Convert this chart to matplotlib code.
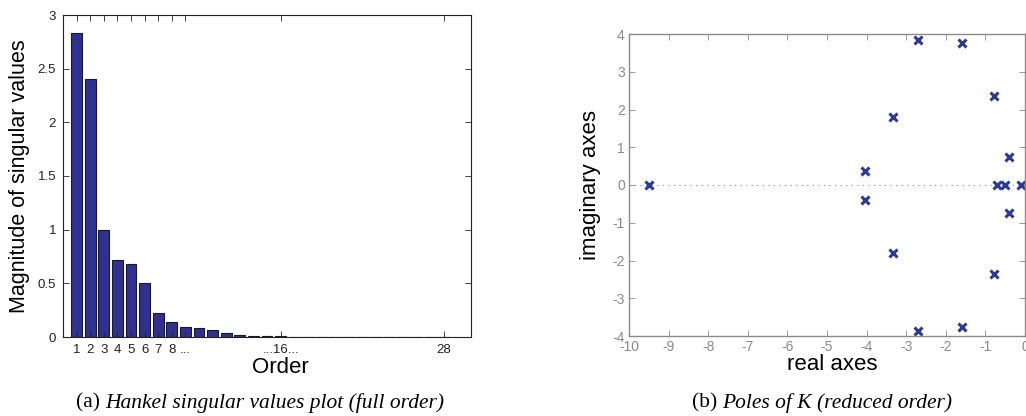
import numpy as np
from matplotlib import pyplot as plt

# Hankel singular values (full order, 28 states)
order = np.arange(1, 29)
hsv = [2.83, 2.40, 1.00, 0.72, 0.68, 0.50, 0.22, 0.14, 0.09, 0.085,
       0.065, 0.035, 0.015, 0.012, 0.008, 0.006, 0.004, 0.003, 0.003, 0.002,
       0.002, 0.002, 0.001, 0.001, 0.001, 0.001, 0.001, 0.001]
xtick_pos = [1, 2, 3, 4, 5, 6, 7, 8, 9, 16, 28]
xtick_lab = ['1', '2', '3', '4', '5', '6', '7', '8', '...', '...16...', '28']

# poles of reduced order controller K
pole_re = [-9.5, -4.05, -4.05, -3.33, -3.33, -2.69, -2.69, -1.58, -1.58,
           -0.78, -0.78, -0.40, -0.40, -0.70, -0.50, -0.09]
pole_im = [0.0, 0.38, -0.39, 1.80, -1.81, 3.85, -3.86, 3.76, -3.77,
           2.35, -2.37, 0.74, -0.75, 0.0, 0.0, 0.0]

plt.rcParams['font.family'] = ['Liberation Sans', 'DejaVu Sans']
plt.rcParams['axes.unicode_minus'] = False

def main():
    fig = plt.figure(figsize=(10.26, 4.16), dpi=100)

    # (a) bar plot
    ax1 = fig.add_axes([63/1026, 1-337/416, 408/1026, 322/416])
    ax1.bar(order, hsv, width=0.8, color='#2E3192', edgecolor='#1a1a1a', linewidth=0.8)
    ax1.set_xlim(0, 30)
    ax1.set_ylim(0, 3)
    ax1.set_yticks(np.arange(0, 3.01, 0.5))
    ax1.set_yticklabels(['0', '0.5', '1', '1.5', '2', '2.5', '3'])
    ax1.set_xticks(xtick_pos)
    ax1.set_xticklabels(xtick_lab)
    ax1.tick_params(direction='in', top=True, right=True, labelsize=9.5,
                    length=4, width=0.6, colors='#222222', pad=5)
    for s in ax1.spines.values():
        s.set_linewidth(0.8)
        s.set_color('#222222')
    ax1.set_ylabel('Magnitude of singular values', fontsize=15.5)
    ax1.yaxis.set_label_coords(-0.08, 0.5)
    ax1.set_xlabel('Order', fontsize=16)
    ax1.xaxis.set_label_coords((280-63)/408, -0.062)

    # (b) pole map
    grey = '#8a8a8a'
    ax2 = fig.add_axes([629/1026, 1-336/416, 396/1026, 302/416])
    ax2.axhline(0, color=grey, linestyle=(0, (1, 4)), linewidth=0.8)
    ax2.plot(pole_re, pole_im, linestyle='none', marker='x', markersize=6,
             markeredgewidth=2.2, color='#2B3A98', clip_on=False)
    ax2.set_xlim(-10, 0)
    ax2.set_ylim(-4, 4)
    ax2.set_xticks(np.arange(-10, 0.1, 1))
    ax2.set_yticks(np.arange(-4, 4.1, 1))
    ax2.tick_params(direction='in', top=True, right=True, labelsize=10,
                    length=4, width=0.6, colors=grey, labelcolor=grey, pad=3)
    for s in ax2.spines.values():
        s.set_linewidth(1.0)
        s.set_color(grey)
    ax2.set_ylabel('imaginary axes', fontsize=16)
    ax2.yaxis.set_label_coords(-0.07, 0.5)
    ax2.set_xlabel('real axes', fontsize=16)
    ax2.xaxis.set_label_coords(0.513, -0.06)

    # captions
    cap = dict(fontsize=15.5, family='Liberation Serif', va='center')
    fig.text(100/1026, 1-403/416, '(a)', ha='right', **cap)
    fig.text(105/1026, 1-403/416, 'Hankel singular values plot (full order)',
             ha='left', style='italic', **cap)
    fig.text(717/1026, 1-403/416, '(b)', ha='right', **cap)
    fig.text(722/1026, 1-403/416, 'Poles of K (reduced order)',
             ha='left', style='italic', **cap)

    fig.savefig('out.png', dpi=100)

if __name__ == "__main__":
    main()
